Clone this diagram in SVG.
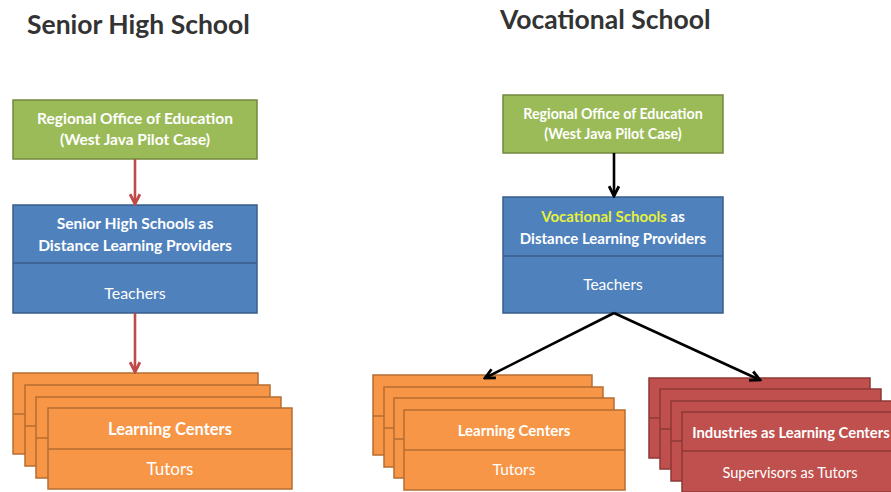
<svg xmlns="http://www.w3.org/2000/svg" width="891" height="492" viewBox="0 0 891 492">
<style>
.title{font-family:Lato,"Open Sans","Liberation Sans",sans-serif;font-weight:bold;font-size:26.5px;fill:#333}
.t{font-family:Lato,"Open Sans","Liberation Sans",sans-serif;fill:#fff;text-anchor:middle}
.b{font-weight:bold}
.green{fill:#9BBB59;stroke:#71893F;stroke-width:1.5}
.blue{fill:#4F81BD;stroke:#385D8A;stroke-width:1.5}
.orange{fill:#F79646;stroke:#B66D31;stroke-width:1.5}
.red{fill:#C0504D;stroke:#8C3836;stroke-width:1.5}
</style>
<defs>
<marker id="ar" viewBox="0 0 12 12" refX="10.5" refY="6" markerWidth="13" markerHeight="13" markerUnits="userSpaceOnUse" orient="auto"><path d="M1.5,1.5 L10.5,6 L1.5,10.5" fill="none" stroke="#BE4B48" stroke-width="2.6"/></marker>
<marker id="ak" viewBox="0 0 12 12" refX="10.5" refY="6" markerWidth="13" markerHeight="13" markerUnits="userSpaceOnUse" orient="auto"><path d="M1.5,1.5 L10.5,6 L1.5,10.5" fill="none" stroke="#000" stroke-width="2.6"/></marker>
</defs>
<rect width="891" height="492" fill="#fff"/>
<text class="title" x="27" y="34">Senior High School</text>
<text class="title" x="500" y="29">Vocational School</text>

<g id="shs-office">
<rect class="green" x="13" y="100" width="244" height="59"/>
<text class="t b" x="135" y="124" font-size="15.5">Regional Office of Education</text>
<text class="t b" x="135" y="145" font-size="15.5">(West Java Pilot Case)</text>
</g>
<g id="shs-providers">
<rect class="blue" x="13" y="205" width="244" height="108"/>
<line x1="13" y1="263" x2="257" y2="263" stroke="#385D8A" stroke-width="1.5"/>
<text class="t b" x="135" y="229" font-size="15.6">Senior High Schools as</text>
<text class="t b" x="135" y="251" font-size="15.6">Distance Learning Providers</text>
<text class="t" x="135" y="299" font-size="16">Teachers</text>
</g>
<g id="shs-centers">
<rect class="orange" x="13" y="373" width="245" height="81"/>
<line x1="13" y1="414" x2="258" y2="414" stroke="#B66D31" stroke-width="1.5"/>
<rect class="orange" x="25" y="385" width="245" height="81"/>
<line x1="25" y1="426" x2="270" y2="426" stroke="#B66D31" stroke-width="1.5"/>
<rect class="orange" x="36" y="397" width="245" height="81"/>
<line x1="36" y1="438" x2="281" y2="438" stroke="#B66D31" stroke-width="1.5"/>
<rect class="orange" x="48" y="408" width="244" height="81"/>
<line x1="48" y1="449" x2="292" y2="449" stroke="#B66D31" stroke-width="1.5"/>
<text class="t b" x="170" y="435" font-size="16.5">Learning Centers</text>
<text class="t" x="170" y="475" font-size="17">Tutors</text>
</g>

<g id="voc-office">
<rect class="green" x="503" y="95" width="220" height="58"/>
<text class="t b" x="613" y="119" font-size="14.2">Regional Office of Education</text>
<text class="t b" x="613" y="139" font-size="14.2">(West Java Pilot Case)</text>
</g>
<g id="voc-providers">
<rect class="blue" x="503" y="197" width="220" height="116"/>
<line x1="503" y1="256" x2="723" y2="256" stroke="#385D8A" stroke-width="1.5"/>
<text class="t b" x="613" y="222" font-size="15"><tspan fill="#E6F03C">Vocational Schools</tspan> as</text>
<text class="t b" x="613" y="244" font-size="15">Distance Learning Providers</text>
<text class="t" x="613" y="290" font-size="15.5">Teachers</text>
</g>
<g id="voc-centers">
<rect class="orange" x="373" y="375" width="219" height="80"/>
<line x1="373" y1="416" x2="592" y2="416" stroke="#B66D31" stroke-width="1.5"/>
<rect class="orange" x="384" y="387" width="219" height="80"/>
<line x1="384" y1="428" x2="603" y2="428" stroke="#B66D31" stroke-width="1.5"/>
<rect class="orange" x="394" y="398" width="220" height="80"/>
<line x1="394" y1="439" x2="614" y2="439" stroke="#B66D31" stroke-width="1.5"/>
<rect class="orange" x="404" y="410" width="221" height="80"/>
<line x1="404" y1="450" x2="625" y2="450" stroke="#B66D31" stroke-width="1.5"/>
<text class="t b" x="514" y="436" font-size="15">Learning Centers</text>
<text class="t" x="514" y="475" font-size="15.5">Tutors</text>
</g>
<g id="industries">
<rect class="red" x="649" y="378" width="221" height="80"/>
<line x1="649" y1="418" x2="870" y2="418" stroke="#8C3836" stroke-width="1.5"/>
<rect class="red" x="660" y="389" width="221" height="80"/>
<line x1="660" y1="429" x2="881" y2="429" stroke="#8C3836" stroke-width="1.5"/>
<rect class="red" x="671" y="401" width="221" height="80"/>
<line x1="671" y1="441" x2="892" y2="441" stroke="#8C3836" stroke-width="1.5"/>
<rect class="red" x="682" y="412" width="221" height="80"/>
<line x1="682" y1="451" x2="903" y2="451" stroke="#8C3836" stroke-width="1.5"/>
<text class="t b" x="791" y="438" font-size="14.8">Industries as Learning Centers</text>
<text class="t" x="790" y="478" font-size="14.6">Supervisors as Tutors</text>
</g>

<g id="connectors" fill="none" stroke-width="2.6">
<line x1="135" y1="159" x2="135" y2="204" stroke="#BE4B48" marker-end="url(#ar)"/>
<line x1="135" y1="313" x2="135" y2="372" stroke="#BE4B48" marker-end="url(#ar)"/>
<line x1="614" y1="153" x2="614" y2="196" stroke="#000" marker-end="url(#ak)"/>
<line x1="614" y1="313" x2="485" y2="378" stroke="#000" marker-end="url(#ak)"/>
<line x1="614" y1="313" x2="760" y2="380" stroke="#000" marker-end="url(#ak)"/>
</g>
</svg>
